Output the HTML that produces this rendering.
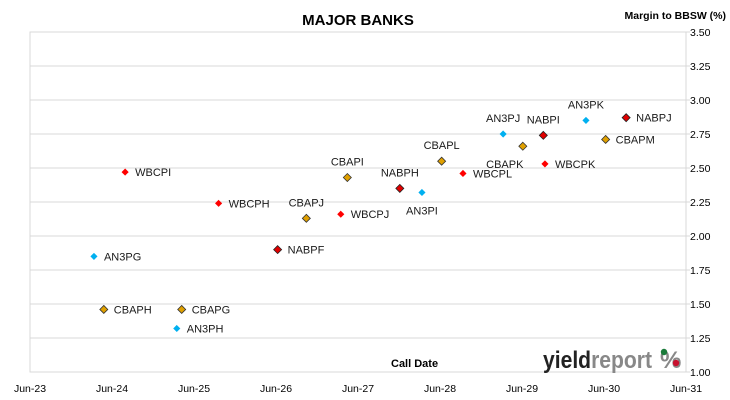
<!DOCTYPE html>
<html><head><meta charset="utf-8"><style>
body{margin:0;background:#fff;}
svg{display:block;font-family:"Liberation Sans",sans-serif;}
</style></head><body>
<svg id="chart" width="730" height="400">
<text x="358" y="25" text-anchor="middle" font-size="15" font-weight="bold" fill="#000">MAJOR BANKS</text>
<text x="726" y="19" text-anchor="end" font-size="10.5" font-weight="bold" fill="#000">Margin to BBSW (%)</text>
<g id="grid"></g><g id="ylabels"></g><g id="xlabels"></g><g id="points"></g>
<text x="391" y="367" font-size="11" font-weight="bold" fill="#000">Call Date</text>
<g>
<text x="543" y="368" font-size="24" font-weight="bold" fill="#222" textLength="109" lengthAdjust="spacingAndGlyphs">yield<tspan fill="#888">report</tspan></text>
<text x="660" y="368" font-size="24" font-weight="bold" fill="#888">%</text>
<circle cx="664" cy="352" r="3.2" fill="#1a7a3a"/><circle cx="676" cy="363" r="3.2" fill="#c8102e"/>
</g>
</svg>
<script>
const names=["WBCPI","AN3PG","CBAPH","CBAPG","AN3PH","WBCPH","NABPF","CBAPJ","WBCPJ","CBAPI","NABPH","AN3PI","CBAPL","WBCPL","AN3PJ","CBAPK","NABPI","WBCPK","AN3PK","CBAPM","NABPJ"];
const callDates=[2024.66,2024.28,2024.40,2025.35,2025.29,2025.80,2026.52,2026.87,2027.29,2027.37,2028.01,2028.28,2028.52,2028.78,2029.27,2029.51,2029.76,2029.78,2030.28,2030.52,2030.77];
const margins=[2.47,1.85,1.46,1.46,1.32,2.24,1.90,2.13,2.16,2.43,2.35,2.32,2.55,2.46,2.75,2.66,2.74,2.53,2.85,2.71,2.87];
const labelSide=["r","r","r","r","r","r","r","t","r","t","t","b","t","r","t","bl","t","r","t","r","r"];
const yTicks=[1.00,1.25,1.50,1.75,2.00,2.25,2.50,2.75,3.00,3.25,3.50];
const xTickLabels=["Jun-23","Jun-24","Jun-25","Jun-26","Jun-27","Jun-28","Jun-29","Jun-30","Jun-31"];
const xTickYears=[2023.5,2024.5,2025.5,2026.5,2027.5,2028.5,2029.5,2030.5,2031.5];
const X0=30,X1=686,Y0=372,Y1=32;
const xS=v=>X0+(v-2023.5)/(8)*(X1-X0);
const yS=v=>Y0-(v-1)/2.5*(Y0-Y1);
const NS="http://www.w3.org/2000/svg";
function mk(t,a,p){const e=document.createElementNS(NS,t);for(const k in a)e.setAttribute(k,a[k]);p.appendChild(e);return e;}
const grid=document.getElementById('grid'),yl=document.getElementById('ylabels'),xl=document.getElementById('xlabels'),pts=document.getElementById('points');
const frame=mk('rect',{x:X0,y:Y1,width:X1-X0,height:Y0-Y1,fill:'none',stroke:'#d9d9d9'},grid);


yTicks.forEach(v=>{
 const l=mk('line',{x1:X0,x2:X1+4,y1:yS(v),y2:yS(v),stroke:'#d9d9d9'},grid);
 
 
 const t=mk('text',{x:690,y:yS(v)+4,'font-size':'10.5',fill:'#000'},yl);
 t.textContent=v.toFixed(2);
 
 
});
xTickLabels.forEach((s,i)=>{
 const t=mk('text',{x:xS(xTickYears[i]),y:392,'font-size':'10.5','text-anchor':'middle',fill:'#000'},xl);
 t.textContent=s;
 
 
});
function style(n){
 if(n.startsWith('WBC'))return{fill:'#ff0000',stroke:'#ff0000',r:3};
 if(n.startsWith('NAB'))return{fill:'#e00000',stroke:'#222',r:4};
 if(n.startsWith('CBA'))return{fill:'#e0a000',stroke:'#333',r:4};
 return{fill:'#00b0f0',stroke:'#00b0f0',r:3};
}
names.forEach((n,i)=>{
 const cx=xS(callDates[i]),cy=yS(margins[i]),s=style(n);
 const g=mk('g',{},pts);
 
 
 mk('polygon',{points:`${cx},${cy-s.r} ${cx+s.r},${cy} ${cx},${cy+s.r} ${cx-s.r},${cy}`,fill:s.fill,stroke:s.stroke,'stroke-width':0.8},g);
 let tx=cx+10,ty=cy+4,anc='start';
 const side=labelSide[i];
 if(side==='t'){tx=cx;ty=cy-12;anc='middle';}
 else if(side==='b'){tx=cx;ty=cy+22;anc='middle';}
 else if(side==='bl'){tx=cx-18;ty=cy+22;anc='middle';}
 const t=mk('text',{x:tx,y:ty,'font-size':'11','text-anchor':anc,fill:'#1a1a1a'},g);
 t.textContent=n;
});
</script>
</body></html>
